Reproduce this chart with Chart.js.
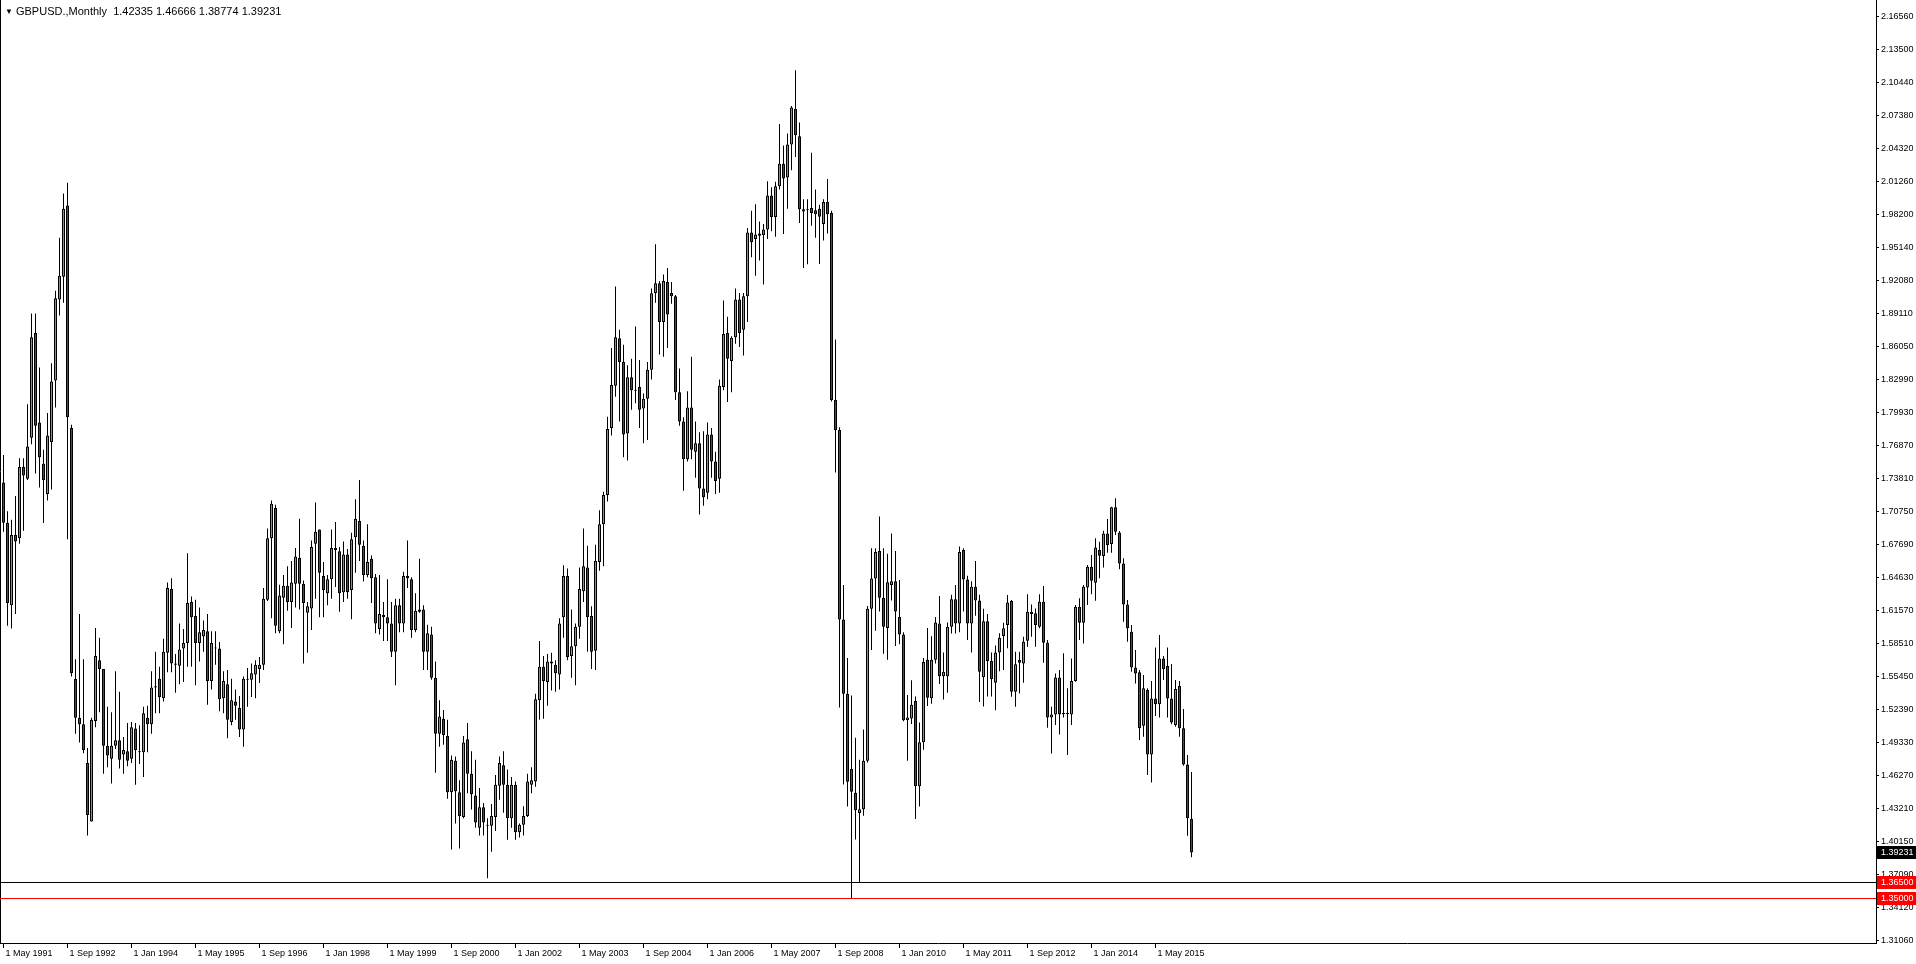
<!DOCTYPE html>
<html>
<head>
<meta charset="utf-8">
<script src="https://cdn.jsdelivr.net/npm/chart.js@4.4.1/dist/chart.umd.min.js"></script>
<style>
  html, body { margin: 0; padding: 0; background: #fff; }
  #wrap { position: relative; width: 1916px; height: 964px; }
  #header { position: absolute; left: 5px; top: 4px; font: 11px/14px 'Liberation Sans', Arial, sans-serif; color: #000; white-space: pre; }
  #header .tri { font-size: 8px; vertical-align: 1px; }
</style>
</head>
<body>
<div id="wrap">
  <canvas id="chart" width="1916" height="964"></canvas>
  <div id="header"></div>
</div>
<script>
// GBPUSD monthly, May 1991 .. Feb 2016
const symbolName = 'GBPUSD.,Monthly';

const opens = [
  1.7345, 1.6970, 1.6210, 1.6860, 1.6830, 1.7490, 1.7380, 1.7760,
  1.8730, 1.7900, 1.7520, 1.7240, 1.7720, 1.8290, 1.9040, 1.9250, 1.9910, 1.7850, 1.5530, 1.5170,
  1.5110, 1.4750, 1.4210, 1.5140, 1.5700, 1.5620, 1.4910, 1.4790, 1.4910, 1.4960, 1.4830, 1.4860,
  1.4790, 1.5070, 1.4850, 1.4850, 1.5170, 1.5110, 1.5450, 1.5530, 1.5350, 1.5770, 1.6360, 1.5670,
  1.5650, 1.5810, 1.5860, 1.6240, 1.6110, 1.5860, 1.5920, 1.5970, 1.5510, 1.5820, 1.5810, 1.5350,
  1.5480, 1.5130, 1.5320, 1.5260, 1.5060, 1.5520, 1.5520, 1.5570, 1.5620, 1.5660, 1.6260, 1.6830,
  1.7110, 1.5970, 1.6280, 1.6390, 1.6240, 1.6410, 1.6650, 1.6410, 1.6140, 1.6180, 1.6780, 1.6910,
  1.6480, 1.6320, 1.6450, 1.6740, 1.6710, 1.6330, 1.6680, 1.6350, 1.6840, 1.6990, 1.6760, 1.6490,
  1.6640, 1.6470, 1.5990, 1.6120, 1.6100, 1.6040, 1.5780, 1.6210, 1.6040, 1.6480, 1.6450, 1.5980,
  1.6170, 1.6170, 1.5780, 1.5940, 1.5540, 1.5020, 1.5160, 1.5000, 1.4480, 1.4770, 1.4480, 1.4250,
  1.4970, 1.4650, 1.4450, 1.4150, 1.4340, 1.4180, 1.4170, 1.4250, 1.4540, 1.4730, 1.4550, 1.4240,
  1.4550, 1.4110, 1.4180, 1.4260, 1.4550, 1.4580, 1.5330, 1.5640, 1.5500, 1.5690, 1.5660, 1.5570,
  1.6100, 1.6480, 1.5740, 1.5830, 1.6010, 1.6340, 1.6560, 1.6110, 1.5790, 1.6610, 1.6960, 1.7230,
  1.7850, 1.8240, 1.8680, 1.8460, 1.7800, 1.8320, 1.8200, 1.8230, 1.8030, 1.8120, 1.8390, 1.9100,
  1.9190, 1.8830, 1.9200, 1.9100, 1.9070, 1.8180, 1.7910, 1.7560, 1.8040, 1.7630, 1.7710, 1.7290,
  1.7250, 1.7790, 1.7540, 1.7380, 1.8230, 1.8730, 1.8470, 1.8690, 1.9040, 1.8760, 1.9070, 1.9660,
  1.9600, 1.9650, 1.9635, 1.9686, 2.0001, 1.9803, 2.0088, 2.0296, 2.0169, 2.0474, 2.0805, 2.0550,
  1.9854, 1.9874, 1.9885, 1.9865, 1.9880, 1.9738, 1.9941, 1.9839, 1.8110, 1.7831, 1.6077, 1.5390,
  1.4694, 1.4475, 1.4287, 1.4322, 1.4770, 1.6178, 1.6458, 1.6712, 1.6280, 1.6000, 1.6397, 1.6432,
  1.6102, 1.5939, 1.5147, 1.5162, 1.5324, 1.4536, 1.4943, 1.5705, 1.5350, 1.5705, 1.6041, 1.5553,
  1.5553, 1.6010, 1.6265, 1.6041, 1.6722, 1.6448, 1.6041, 1.6382, 1.6255, 1.5543, 1.6061, 1.5695,
  1.5492, 1.5772, 1.5925, 1.6027, 1.6249, 1.5410, 1.5703, 1.5672, 1.5882, 1.6150, 1.6135, 1.6011,
  1.6243, 1.5863, 1.5172, 1.5200, 1.5542, 1.5209, 1.5203, 1.5200, 1.5508, 1.6196, 1.6048, 1.6375,
  1.6566, 1.6418, 1.6721, 1.6665, 1.6875, 1.6776, 1.7116, 1.6884, 1.6597, 1.6218, 1.5965, 1.5635,
  1.5589, 1.5095, 1.5425, 1.4830, 1.5348, 1.5293, 1.5718, 1.5647, 1.5348, 1.5101, 1.5462, 1.5071,
  1.4737, 1.42335
];

const highs = [
  1.7600, 1.7080, 1.7000, 1.7220, 1.7570, 1.7570, 1.8070, 1.8910,
  1.8910, 1.8410, 1.7650, 1.7990, 1.8450, 1.9120, 1.9610, 2.0020, 2.0120, 1.7880, 1.5710, 1.6130,
  1.5710, 1.4890, 1.5170, 1.6000, 1.5910, 1.5620, 1.5270, 1.5220, 1.5600, 1.5410, 1.4990, 1.5120,
  1.5130, 1.5120, 1.5100, 1.5270, 1.5280, 1.5600, 1.5780, 1.5640, 1.5900, 1.6420, 1.6460, 1.5760,
  1.6040, 1.5990, 1.6690, 1.6290, 1.6260, 1.6190, 1.6070, 1.6130, 1.5970, 1.5970, 1.5870, 1.5600,
  1.5610, 1.5530, 1.5430, 1.5370, 1.5550, 1.5630, 1.5670, 1.5700, 1.5730, 1.6370, 1.6920, 1.7180,
  1.7140, 1.6400, 1.6490, 1.6570, 1.6620, 1.6740, 1.7010, 1.6440, 1.6240, 1.6810, 1.7160, 1.6910,
  1.6610, 1.6490, 1.6910, 1.6980, 1.6750, 1.6800, 1.6730, 1.6880, 1.7190, 1.7370, 1.6810, 1.6960,
  1.6670, 1.6500, 1.6490, 1.6240, 1.6450, 1.6240, 1.6270, 1.6270, 1.6520, 1.6810, 1.6470, 1.6320,
  1.6640, 1.6210, 1.6030, 1.6010, 1.5690, 1.5330, 1.5240, 1.5150, 1.4820, 1.4810, 1.4590, 1.5000,
  1.5120, 1.4860, 1.4780, 1.4520, 1.4380, 1.4240, 1.4370, 1.4640, 1.4810, 1.4860, 1.4690, 1.4620,
  1.4580, 1.4190, 1.4350, 1.4650, 1.4710, 1.5390, 1.5880, 1.5740, 1.5760, 1.5770, 1.5700, 1.6090,
  1.6580, 1.6550, 1.6170, 1.6040, 1.6560, 1.6920, 1.6760, 1.6200, 1.6770, 1.7090, 1.7260, 1.7955,
  1.8590, 1.9160, 1.8760, 1.8620, 1.8430, 1.8490, 1.8790, 1.8480, 1.8170, 1.8460, 1.9140, 1.9550,
  1.9210, 1.9270, 1.9330, 1.9200, 1.9080, 1.8400, 1.7950, 1.8190, 1.8510, 1.7910, 1.7810, 1.7820,
  1.7900, 1.7850, 1.7630, 1.8300, 1.9030, 1.8880, 1.8700, 1.9140, 1.9100, 1.9100, 1.9700, 1.9860,
  1.9920, 1.9760, 1.9737, 2.0133, 2.0078, 2.0128, 2.0662, 2.0464, 2.0576, 2.0830, 2.1160, 2.0677,
  1.9966, 1.9966, 2.0398, 2.0058, 1.9916, 1.9967, 2.0154, 1.9860, 1.8669, 1.7856, 1.6397, 1.5721,
  1.5375, 1.4984, 1.4780, 1.5060, 1.6202, 1.6738, 1.6738, 1.7032, 1.6738, 1.6687, 1.6875, 1.6712,
  1.6443, 1.5960, 1.5380, 1.5517, 1.5365, 1.5126, 1.5721, 1.6000, 1.5924, 1.6102, 1.6295, 1.5772,
  1.6051, 1.6306, 1.6397, 1.6753, 1.6738, 1.6483, 1.6432, 1.6620, 1.6306, 1.6178, 1.6128, 1.5772,
  1.5838, 1.5950, 1.6048, 1.6304, 1.6258, 1.5780, 1.5780, 1.5919, 1.6311, 1.6218, 1.6181, 1.6311,
  1.6388, 1.5888, 1.5271, 1.5579, 1.5610, 1.5765, 1.5441, 1.5718, 1.6212, 1.6274, 1.6397, 1.6582,
  1.6674, 1.6829, 1.6798, 1.6900, 1.7008, 1.7122, 1.7199, 1.6897, 1.6644, 1.6258, 1.6027, 1.5795,
  1.5610, 1.5564, 1.5441, 1.5508, 1.5820, 1.5934, 1.5740, 1.5820, 1.5666, 1.5518, 1.5508, 1.5249,
  1.4824, 1.46666
];

const lows = [
  1.6890, 1.6020, 1.5994, 1.6130, 1.6780, 1.6900, 1.7370, 1.7700,
  1.7430, 1.7300, 1.6970, 1.7180, 1.7280, 1.8040, 1.8890, 1.9010, 1.6820, 1.5550, 1.5020, 1.4940,
  1.4840, 1.4080, 1.4210, 1.5080, 1.5220, 1.4650, 1.4710, 1.4560, 1.4880, 1.4700, 1.4650, 1.4720,
  1.4750, 1.4550, 1.4740, 1.4620, 1.4850, 1.5020, 1.5210, 1.5210, 1.5320, 1.5590, 1.5590, 1.5400,
  1.5480, 1.5500, 1.5640, 1.5640, 1.5470, 1.5690, 1.5780, 1.5290, 1.5430, 1.5660, 1.5230, 1.5210,
  1.4980, 1.5100, 1.5150, 1.4990, 1.4900, 1.5270, 1.5360, 1.5350, 1.5490, 1.5610, 1.6250, 1.6090,
  1.5950, 1.5950, 1.5850, 1.6160, 1.6000, 1.6190, 1.6170, 1.5670, 1.5770, 1.5980, 1.6270, 1.6100,
  1.6100, 1.6210, 1.6270, 1.6380, 1.6150, 1.6240, 1.6270, 1.6080, 1.6510, 1.6620, 1.6430, 1.6470,
  1.6230, 1.5950, 1.5940, 1.5880, 1.5880, 1.5730, 1.5470, 1.5960, 1.5960, 1.6370, 1.5910, 1.5960,
  1.6140, 1.5610, 1.5610, 1.5520, 1.4660, 1.4900, 1.4920, 1.4420, 1.3950, 1.4190, 1.3960, 1.4240,
  1.4470, 1.4320, 1.4150, 1.4080, 1.4080, 1.3684, 1.3930, 1.4120, 1.4410, 1.4290, 1.4040, 1.4150,
  1.4040, 1.4060, 1.4080, 1.4250, 1.4470, 1.4530, 1.5150, 1.5160, 1.5280, 1.5420, 1.5410, 1.5430,
  1.5910, 1.5700, 1.5540, 1.5470, 1.5900, 1.6240, 1.5780, 1.5620, 1.5610, 1.6530, 1.6570, 1.7170,
  1.7780, 1.8140, 1.7910, 1.7580, 1.7550, 1.8020, 1.8080, 1.7850, 1.7710, 1.7740, 1.8300, 1.9010,
  1.8530, 1.8510, 1.8590, 1.9000, 1.8110, 1.7870, 1.7270, 1.7540, 1.7560, 1.7390, 1.7050, 1.7130,
  1.7190, 1.7390, 1.7240, 1.7250, 1.8200, 1.8090, 1.8180, 1.8630, 1.8600, 1.8520, 1.8830, 1.9430,
  1.9260, 1.9400, 1.9178, 1.9600, 1.9671, 1.9620, 2.0057, 1.9645, 1.9879, 2.0235, 2.0357, 1.9747,
  1.9330, 1.9366, 1.9722, 1.9610, 1.9367, 1.9585, 1.9650, 1.8095, 1.7439, 1.5263, 1.4551, 1.4348,
  1.3500, 1.4043, 1.3650, 1.4262, 1.4755, 1.5797, 1.5975, 1.6153, 1.5761, 1.5705, 1.6255, 1.5832,
  1.5848, 1.5137, 1.4770, 1.5111, 1.4231, 1.4348, 1.4872, 1.5278, 1.5299, 1.5670, 1.5482, 1.5339,
  1.5400, 1.5949, 1.5949, 1.5960, 1.6153, 1.5889, 1.5772, 1.6112, 1.5314, 1.5273, 1.5365, 1.5365,
  1.5238, 1.5600, 1.5610, 1.5811, 1.5364, 1.5271, 1.5394, 1.5493, 1.5826, 1.5919, 1.5826, 1.5996,
  1.5678, 1.5077, 1.4839, 1.5101, 1.5015, 1.5172, 1.4824, 1.5101, 1.5502, 1.5888, 1.5857, 1.6212,
  1.6311, 1.6252, 1.6459, 1.6560, 1.6696, 1.6696, 1.6860, 1.6542, 1.6058, 1.5872, 1.5595, 1.5487,
  1.4963, 1.4994, 1.4639, 1.4571, 1.5185, 1.5172, 1.5518, 1.5172, 1.5108, 1.5086, 1.4993, 1.4725,
  1.4077, 1.38774
];

const closes = [
  1.6973, 1.6230, 1.6860, 1.6800, 1.7490, 1.7410, 1.7680, 1.8690,
  1.7870, 1.7580, 1.7370, 1.7780, 1.8280, 1.9050, 1.9260, 1.9880, 1.7950, 1.5580, 1.5170, 1.5110,
  1.4870, 1.4270, 1.5150, 1.5740, 1.5620, 1.4910, 1.4820, 1.4910, 1.4960, 1.4780, 1.4870, 1.4770,
  1.5080, 1.4870, 1.4860, 1.5210, 1.5110, 1.5450, 1.5460, 1.5360, 1.5780, 1.6370, 1.5670, 1.5660,
  1.5800, 1.5860, 1.6230, 1.6100, 1.5860, 1.5960, 1.5980, 1.5510, 1.5860, 1.5810, 1.5340, 1.5510,
  1.5150, 1.5330, 1.5280, 1.5060, 1.5530, 1.5530, 1.5580, 1.5660, 1.5660, 1.6270, 1.6830, 1.7150,
  1.6020, 1.6300, 1.6390, 1.6240, 1.6420, 1.6660, 1.6410, 1.6230, 1.6200, 1.6750, 1.6890, 1.6510,
  1.6350, 1.6450, 1.6740, 1.6720, 1.6320, 1.6680, 1.6330, 1.6820, 1.7010, 1.6770, 1.6490, 1.6610,
  1.6460, 1.6040, 1.6130, 1.6100, 1.6040, 1.5780, 1.6210, 1.6040, 1.6480, 1.6460, 1.5980, 1.6160,
  1.6150, 1.5780, 1.5950, 1.5540, 1.5020, 1.5180, 1.5010, 1.4480, 1.4780, 1.4490, 1.4260, 1.4940,
  1.4650, 1.4460, 1.4200, 1.4340, 1.4200, 1.4170, 1.4260, 1.4550, 1.4750, 1.4550, 1.4240, 1.4550,
  1.4110, 1.4180, 1.4260, 1.4580, 1.4590, 1.5340, 1.5640, 1.5510, 1.5690, 1.5670, 1.5580, 1.6040,
  1.6480, 1.5730, 1.5830, 1.6010, 1.6360, 1.6570, 1.6100, 1.5780, 1.6620, 1.6960, 1.7230, 1.7840,
  1.8248, 1.8690, 1.8460, 1.7790, 1.8320, 1.8200, 1.8195, 1.8020, 1.8120, 1.8390, 1.9096, 1.9190,
  1.8830, 1.9210, 1.8900, 1.9070, 1.8180, 1.7910, 1.7560, 1.8040, 1.7650, 1.7710, 1.7290, 1.7210,
  1.7790, 1.7540, 1.7360, 1.8240, 1.8720, 1.8490, 1.8686, 1.9040, 1.8730, 1.9070, 1.9660, 1.9570,
  1.9640, 1.9630, 1.9686, 2.0001, 1.9803, 2.0088, 2.0296, 2.0159, 2.0474, 2.0815, 2.0560, 1.9874,
  1.9874, 1.9864, 1.9839, 1.9829, 1.9804, 1.9941, 1.9829, 1.8110, 1.7831, 1.6077, 1.5390, 1.4577,
  1.4485, 1.4312, 1.4322, 1.4770, 1.6178, 1.6458, 1.6702, 1.6280, 1.6010, 1.6422, 1.6432, 1.6153,
  1.5939, 1.5147, 1.5172, 1.5289, 1.4536, 1.4943, 1.5685, 1.5355, 1.5705, 1.6051, 1.5553, 1.5594,
  1.6010, 1.6265, 1.6041, 1.6702, 1.6448, 1.6041, 1.6382, 1.6255, 1.5594, 1.6061, 1.5695, 1.5528,
  1.5772, 1.5909, 1.5996, 1.6236, 1.5410, 1.5663, 1.5678, 1.5873, 1.6150, 1.6128, 1.6027, 1.6243,
  1.5863, 1.5172, 1.5200, 1.5542, 1.5200, 1.5203, 1.5209, 1.5508, 1.6196, 1.6048, 1.6381, 1.6566,
  1.6437, 1.6745, 1.6668, 1.6875, 1.6767, 1.7116, 1.6890, 1.6597, 1.6218, 1.5996, 1.5635, 1.5579,
  1.5071, 1.5441, 1.4830, 1.5348, 1.5293, 1.5718, 1.5617, 1.5348, 1.5126, 1.5434, 1.5071, 1.4737,
  1.4238, 1.39231
];

const xTickLabels = [
  '1 May 1991', '1 Sep 1992', '1 Jan 1994', '1 May 1995', '1 Sep 1996', '1 Jan 1998',
  '1 May 1999', '1 Sep 2000', '1 Jan 2002', '1 May 2003', '1 Sep 2004', '1 Jan 2006',
  '1 May 2007', '1 Sep 2008', '1 Jan 2010', '1 May 2011', '1 Sep 2012', '1 Jan 2014', '1 May 2015'
];

const yTickLabels = [
  '2.16560', '2.13500', '2.10440', '2.07380', '2.04320', '2.01260', '1.98200', '1.95140',
  '1.92080', '1.89110', '1.86050', '1.82990', '1.79930', '1.76870', '1.73810', '1.70750',
  '1.67690', '1.64630', '1.61570', '1.58510', '1.55450', '1.52390', '1.49330', '1.46270',
  '1.43210', '1.40150', '1.37090', '1.34120', '1.31060'
];

// horizontal price lines drawn on the chart
const levelPrices = [1.365, 1.35];

const BULL = '#32cd32';
const BEAR = '#ff0000';
const FONT_FAMILY = "'Liberation Sans', Arial, sans-serif";
const AXIS_SIZE = 9;

const MONTH_NAMES = ['Jan', 'Feb', 'Mar', 'Apr', 'May', 'Jun', 'Jul', 'Aug', 'Sep', 'Oct', 'Nov', 'Dec'];
const months = opens.map((_, i) => {
  const m = 4 + i;
  return '1 ' + MONTH_NAMES[m % 12] + ' ' + (1991 + Math.floor(m / 12));
});

const last = closes.length - 1;
document.getElementById('header').innerHTML =
  '<span class="tri">\u25BC</span> ' + symbolName + '  ' +
  [opens[last], highs[last], lows[last], closes[last]].map(v => v.toFixed(5)).join(' ');

const bodyData = opens.map((o, i) => ({ x: i, y: [o, closes[i]] }));
const wickData = lows.map((l, i) => ({ x: i, y: [l, highs[i]] }));
const candleColor = ctx => closes[ctx.dataIndex] >= opens[ctx.dataIndex] ? BULL : BEAR;

const yTop  = parseFloat(yTickLabels[0]);
const yStep = (yTop - parseFloat(yTickLabels[yTickLabels.length - 1])) / (yTickLabels.length - 1);

const overlay = {
  id: 'overlay',
  afterDraw(chart) {
    const { ctx, chartArea: a } = chart;
    const y = chart.scales.y;
    ctx.save();
    ctx.lineWidth = 1;

    // left frame edge
    ctx.strokeStyle = '#000';
    ctx.beginPath();
    ctx.moveTo(a.left + 0.5, a.top);
    ctx.lineTo(a.left + 0.5, a.bottom);
    ctx.stroke();

    const lineColors = ['#000000', '#ff0000'];
    levelPrices.forEach((p, i) => {
      const py = Math.round(y.getPixelForValue(p)) + 0.5;
      ctx.strokeStyle = lineColors[i];
      ctx.beginPath();
      ctx.moveTo(a.left, py);
      ctx.lineTo(a.right, py);
      ctx.stroke();
    });

    const tag = (p, bg) => {
      const py = Math.round(y.getPixelForValue(p));
      ctx.fillStyle = bg;
      ctx.fillRect(a.right + 1, py - 6, chart.width - a.right - 1, 13);
      ctx.fillStyle = '#fff';
      ctx.font = AXIS_SIZE + 'px ' + FONT_FAMILY;
      ctx.textAlign = 'left';
      ctx.textBaseline = 'middle';
      ctx.fillText(p.toFixed(5), a.right + 5, py + 1);
    };
    levelPrices.forEach(p => tag(p, '#ff0000'));
    tag(closes[last], '#000000');
    ctx.restore();
  }
};

new Chart(document.getElementById('chart'), {
  type: 'bar',
  data: {
    datasets: [
      {
        label: 'body',
        data: bodyData,
        backgroundColor: candleColor,
        borderColor: '#000',
        borderWidth: 1,
        borderSkipped: false,
        barThickness: 3,
        minBarLength: 1,
        grouped: false,
        inflateAmount: 0,
        order: 0
      },
      {
        label: 'wick',
        data: wickData,
        backgroundColor: '#000',
        borderWidth: 0,
        barThickness: 1,
        grouped: false,
        inflateAmount: 0,
        order: 1
      }
    ]
  },
  options: {
    responsive: false,
    animation: false,
    events: [],
    layout: { padding: 0 },
    plugins: { legend: { display: false }, tooltip: { enabled: false } },
    scales: {
      x: {
        type: 'linear',
        min: -0.875,
        max: 468.125,
        offset: false,
        afterBuildTicks: s => { s.ticks = xTickLabels.map(l => ({ value: months.indexOf(l) })).filter(t => t.value >= 0); },
        afterFit: s => { s.height = 21; s.paddingLeft = 0; s.paddingRight = 0; },
        grid: { display: true, drawOnChartArea: false, drawTicks: true, tickLength: 5, color: '#000', offset: false },
        border: { display: true, color: '#000' },
        ticks: {
          callback: (v, i, ticks) => months[ticks[i].value],
          align: 'start',
          labelOffset: 2,
          padding: 0,
          maxRotation: 0,
          autoSkip: false,
          color: '#000',
          font: { family: FONT_FAMILY, size: AXIS_SIZE }
        }
      },
      y: {
        type: 'linear',
        position: 'right',
        min: 1.30847,
        max: 2.18105,
        afterBuildTicks: s => { s.ticks = yTickLabels.map((_, k) => ({ value: yTop - k * yStep })); },
        afterFit: s => { s.width = 40; s.paddingTop = 0; s.paddingBottom = 0; },
        grid: { display: true, drawOnChartArea: false, drawTicks: true, tickLength: 3, color: '#000' },
        border: { display: true, color: '#000' },
        ticks: {
          callback: (v, i) => yTickLabels[i],
          padding: 2,
          autoSkip: false,
          color: '#000',
          font: { family: FONT_FAMILY, size: AXIS_SIZE }
        }
      }
    }
  },
  plugins: [overlay]
});
</script>
</body>
</html>
